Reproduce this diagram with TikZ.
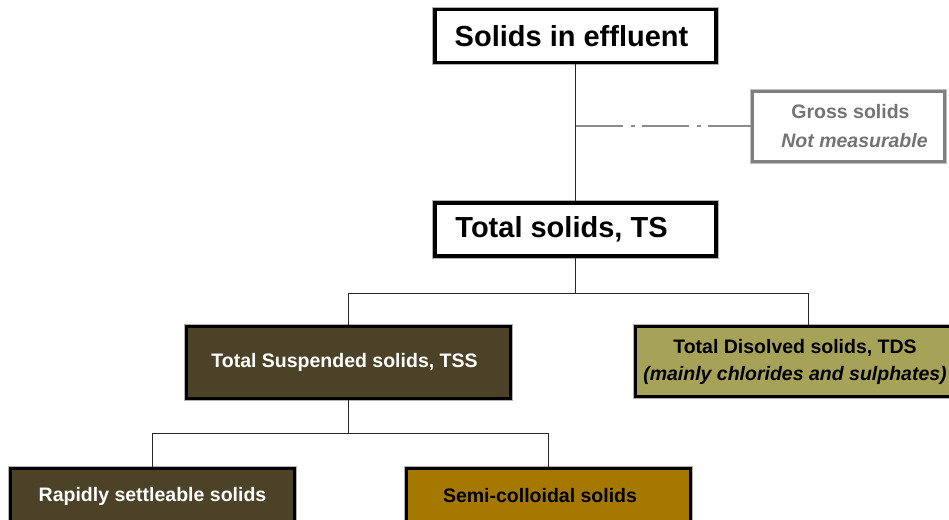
\documentclass[tikz,border=0pt]{standalone}
\usepackage{fontspec}
\setmainfont{Liberation Sans}
\definecolor{tssbrown}{RGB}{76,66,40}
\definecolor{tdsolive}{RGB}{166,162,88}
\definecolor{semigold}{RGB}{165,121,0}
\definecolor{grosstext}{RGB}{115,115,115}

\begin{document}
\begin{tikzpicture}[x=1pt,y=-1pt,
  box/.style={preaction={draw=gray!60,line width=5.5pt},draw=black,line width=3.5pt,
    fill=white,inner sep=0pt,align=center,font=\bfseries\fontsize{19.5}{27}\selectfont},
  bigbox/.style={box,minimum width=281pt,minimum height=53pt,font=\bfseries\fontsize{29}{33}\selectfont},
  smallbox/.style={box,minimum width=284pt,minimum height=72pt},
  grossbox/.style={preaction={draw=gray!50,line width=5pt},draw=gray,line width=3pt,
    fill=white,inner sep=0pt,align=center,minimum width=192pt,minimum height=70pt,
    text=grosstext,font=\bfseries\fontsize{19.5}{29}\selectfont},
  link/.style={draw=black!85,line width=0.9pt},
  dashdot/.style={draw=gray!90,line width=1.2pt,dash pattern=on 47pt off 8pt on 4pt off 7pt}]
  \useasboundingbox (0,0) rectangle (949,519);
  \clip (0,0) rectangle (949,519);
  % cajas
  \node[bigbox] (effluent) at (575.5,36) {Solids in effluent\hspace{8pt}};
  \node[grossbox] (gross) at (848.5,126) {\hspace*{4pt}Gross solids\\\itshape\hspace*{12pt}Not measurable};
  \node[bigbox] (ts) at (575.5,229.5) {Total solids, TS\hspace{28pt}};
  \node[smallbox,minimum width=324pt,fill=tssbrown,text=white] (tss) at (348.5,362.5) {Total Suspended solids, TSS\hspace{8pt}};
  \node[smallbox,minimum width=319pt,minimum height=70pt,fill=tdsolive] (tds) at (795,361.5)
    {Total Disolved solids, TDS\\\itshape (mainly chlorides and sulphates)};
  \node[smallbox,minimum height=55pt,fill=tssbrown,text=white] (rapid) at (152.5,496) {Rapidly settleable solids};
  \node[smallbox,minimum height=55pt,fill=semigold] (semi) at (548.5,496) {Semi-colloidal solids\hspace{17pt}};
  % uniones
  \coordinate (j1) at (575.5,293);
  \coordinate (j2) at (348.5,433);
  \draw[dashdot] (effluent.south |- gross.west) -- (gross.west);
  \draw[link] (effluent.south) -- (ts.north);
  \draw[link] (ts.south) -- (j1) -| (tss.north);
  \draw[link] (j1) -| ([xshift=13pt]tds.north);
  \draw[link] (tss.south) -- (j2) -| (rapid.north);
  \draw[link] (j2) -| (semi.north);
\end{tikzpicture}
\end{document}
